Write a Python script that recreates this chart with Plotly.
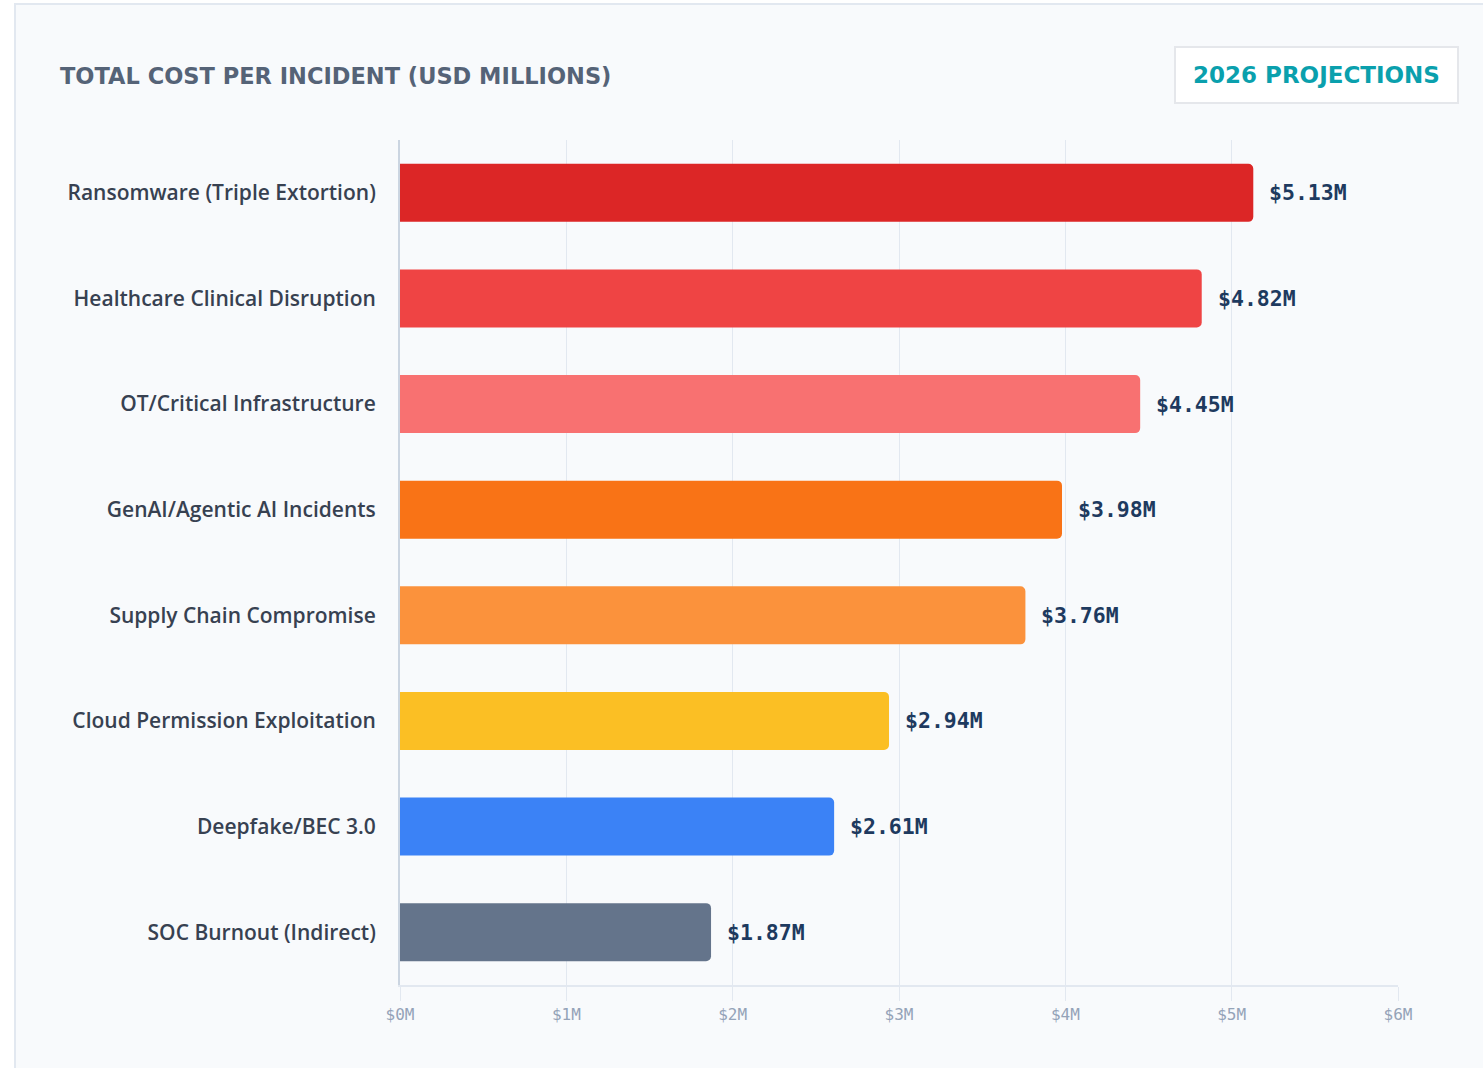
import plotly.graph_objects as go

categories = [
    "Ransomware (Triple Extortion)",
    "Healthcare Clinical Disruption",
    "OT/Critical Infrastructure",
    "GenAI/Agentic AI Incidents",
    "Supply Chain Compromise",
    "Cloud Permission Exploitation",
    "Deepfake/BEC 3.0",
    "SOC Burnout (Indirect)",
]
values = [5.13, 4.82, 4.45, 3.98, 3.76, 2.94, 2.61, 1.87]
bar_colors = ["#dc2626", "#ef4444", "#f87171", "#f97316", "#fb923c", "#fbbf24", "#3b82f6", "#64748b"]
tick_vals = [0, 1, 2, 3, 4, 5, 6]
tick_text = ["$0M", "$1M", "$2M", "$3M", "$4M", "$5M", "$6M"]
value_labels = [f"${v:.2f}M" for v in values]
title_text = "TOTAL COST PER INCIDENT (USD MILLIONS)"
badge_text = "2026 PROJECTIONS"

W, H = 1483, 1068
L, R, T, B = 400, 85, 140, 83
pw, ph = W - L - R, H - T - B

def px(xp):
    return (xp - L) / pw

def py(yp):
    return (H - B - yp) / ph

fig = go.Figure()
fig.add_trace(go.Bar(
    x=values, y=categories, orientation="h",
    marker=dict(color=bar_colors, cornerradius=5, line=dict(width=0)),
    width=0.55, hoverinfo="skip",
))

for c, v, t in zip(categories, values, value_labels):
    fig.add_annotation(x=v, y=c, text=f"<b>{t}</b>", showarrow=False,
                       xanchor="left", xshift=14,
                       font=dict(family="DejaVu Sans Mono", size=21.5, color="#1e3a5f"))

shapes = [
    dict(type="rect", xref="paper", yref="paper", x0=px(15), x1=px(1495), y0=py(1080), y1=py(4),
         fillcolor="#f8fafc", line=dict(color="#e2e8f0", width=2), layer="below"),
    dict(type="rect", xref="paper", yref="paper", x0=px(1175), x1=px(1458), y0=py(103), y1=py(47),
         fillcolor="#ffffff", line=dict(color="#e5e7eb", width=2), layer="below"),
]

fig.add_annotation(xref="paper", yref="paper", x=px(58), y=py(76), xanchor="left", yanchor="middle",
                   text=f"<b>{title_text}</b>", showarrow=False,
                   font=dict(family="DejaVu Sans", size=22.5, color="#556377"))
fig.add_annotation(xref="paper", yref="paper", x=px(1316), y=py(75), xanchor="center", yanchor="middle",
                   text=f"<b>{badge_text}</b>", showarrow=False,
                   font=dict(family="DejaVu Sans", size=23, color="#0aa0ad"))

fig.update_layout(
    width=W, height=H,
    margin=dict(l=L, r=R, t=T, b=B, pad=0),
    paper_bgcolor="#ffffff", plot_bgcolor="rgba(0,0,0,0)",
    shapes=shapes, showlegend=False,
    bargap=0.45,
)
fig.update_xaxes(
    range=[0, 6], tickvals=tick_vals, ticktext=tick_text,
    showgrid=True, gridcolor="#e2e8f0", gridwidth=1,
    zeroline=False, showline=True, linecolor="#e2e8f0", linewidth=2,
    ticks="outside", ticklen=14, tickcolor="#e2e8f0",
    tickfont=dict(family="DejaVu Sans Mono", size=16, color="#94a3b8"),
    fixedrange=True,
)
fig.update_yaxes(
    autorange="reversed", showgrid=False, zeroline=False,
    showline=True, linecolor="#cbd5e1", linewidth=2,
    ticks="", ticklabelstandoff=18,
    tickfont=dict(family="Open Sans", size=21, color="#374151", weight=600),
    fixedrange=True,
)

fig.write_html("out.html", config={"displayModeBar": False})
